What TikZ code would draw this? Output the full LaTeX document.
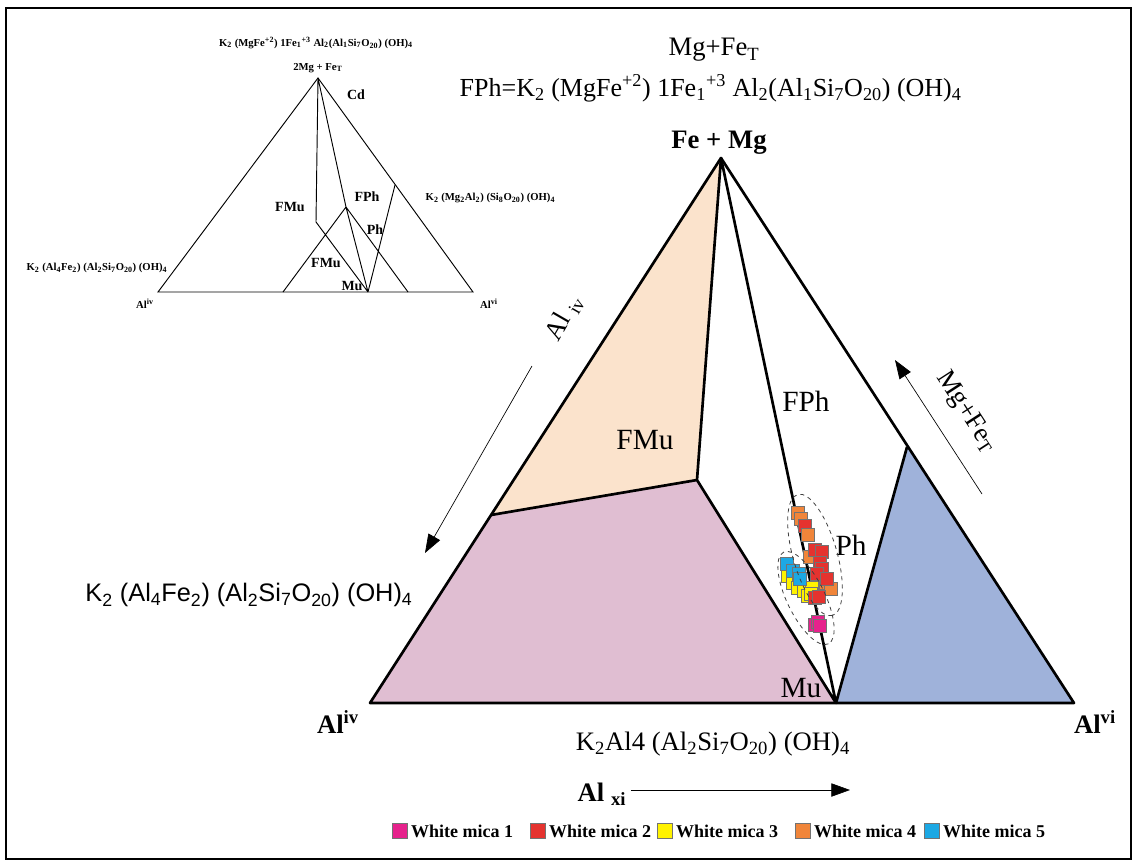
\documentclass[tikz,border=0pt]{standalone}
\usepackage{fontspec}
\setmainfont{Liberation Serif}
\newfontfamily\arialfont{Liberation Sans}
\usepackage{tikz}
\usetikzlibrary{arrows.meta,positioning}

\definecolor{fmucol}{HTML}{FBE3CC}
\definecolor{mucol}{HTML}{E0BED2}
\definecolor{phcol}{HTML}{9FB2DA}
\definecolor{micaA}{HTML}{E6228C}
\definecolor{micaB}{HTML}{E5332F}
\definecolor{micaC}{HTML}{FFF200}
\definecolor{micaD}{HTML}{F0853A}
\definecolor{micaE}{HTML}{1CA8E4}
\newcommand{\chsb}[1]{\textsubscript{#1}}
\newcommand{\chsp}[1]{\textsuperscript{#1}}

\begin{document}
\begin{tikzpicture}[x=0.75pt,y=-0.75pt,
    edge/.style={line width=2pt,line join=round},
    thin edge/.style={line width=0.7pt},
    big/.style={font=\fontsize{22}{24}\selectfont},
    mid/.style={font=\fontsize{20}{22}\selectfont},
    midbf/.style={font=\fontsize{20}{22}\selectfont\bfseries},
    tiny/.style={font=\fontsize{8}{9}\selectfont\bfseries},
    tinylbl/.style={font=\fontsize{10.5}{11}\selectfont\bfseries},
    mica/.style={draw=black!55,line width=0.3pt,minimum size=10pt,inner sep=0pt},
    key text/.style={font=\fontsize{13.5}{15}\selectfont\bfseries,inner sep=1pt},
    axis arrow/.style={-{Triangle[length=14pt,width=10pt]},line width=0.5pt}]
  \useasboundingbox (0,0) rectangle (1133,861);
  \draw[line width=1.5pt] (6,8) rectangle (1131,859);

  % small sketch, top left
  \coordinate (iA) at (318,78);
  \coordinate (iL) at (158,292);
  \coordinate (iR) at (473,292);
  \coordinate (iV) at (316,222);
  \coordinate (iMu) at (368,292);
  \coordinate (iF) at (346,207);
  \coordinate (iP) at (283,292);
  \coordinate (iQ) at (408,292);
  \coordinate (iE) at (395,185);
  \draw[thin edge] (iL) -- (iA) -- (iR) -- cycle;
  \draw[thin edge] (iA) -- (iV) -- (iMu) (iA) -- (iF) -- (iMu)
    (iP) -- (iF) -- (iQ) (iMu) -- (iE);
  \node[tiny] (ifph) at (316,43) {K\chsb{2} (MgFe\chsp{+2}) 1Fe\chsb{1}\chsp{+3} Al\chsb{2}(Al\chsb{1}Si\chsb{7}O\chsb{20}) (OH)\chsb{4}};
  \node[tiny] (itop) at (318,68) {2Mg + Fe\chsb{T}};
  \node[tinylbl] (icd) at (356,95) {Cd};
  \node[tinylbl] (ifmu) at (290,207) {FMu};
  \node[tinylbl] (ifphl) at (367,197) {FPh};
  \node[tinylbl] (iph) at (375,230) {Ph};
  \node[tinylbl] (ifmub) at (326,263) {FMu};
  \node[tinylbl] (imu) at (352,286) {Mu};
  \node[tiny,anchor=west] (icel) at (421,198) {K\chsb{2} (Mg\chsb{2}Al\chsb{2}) (Si\chsb{8}O\chsb{20}) (OH)\chsb{4}};
  \node[tiny] (ifmuf) at (97,268) {K\chsb{2} (Al\chsb{4}Fe\chsb{2}) (Al\chsb{2}Si\chsb{7}O\chsb{20}) (OH)\chsb{4}};
  \node[tiny] (ialiv) at (145,304) {Al\chsp{iv}};
  \node[tiny] (ialvi) at (489,304) {Al\chsp{vi}};

  % main diagram
  \coordinate (top) at (721,158);
  \coordinate (aliv) at (370,703);
  \coordinate (alvi) at (1074,703);
  \coordinate (mu) at (836,703);
  \coordinate (fmu) at (697,480);
  \coordinate (lft) at (491,515);
  \coordinate (rgt) at (907,447);
  \fill[fmucol] (lft) -- (top) -- (fmu) -- cycle;
  \fill[mucol] (aliv) -- (lft) -- (fmu) -- (mu) -- cycle;
  \fill[phcol] (mu) -- (rgt) -- (alvi) -- cycle;
  \draw[edge] (aliv) -- (top) -- (alvi) -- cycle;
  \draw[edge] (lft) -- (fmu) -- (top) (fmu) -- (mu) -- (top) (mu) -- (rgt);

  \node[big] (lfmu) at (645,440) {FMu};
  \node[big] (lfph) at (806,401) {FPh};
  \node[big] (lph) at (851,545) {Ph};
  \node[big] (lmu) at (801,688) {Mu};

  % analyses
  \foreach \c/\x/\y in {micaD/798/513,micaD/801/519,micaB/805/526,micaD/808/535,
      micaD/810/557,micaB/815/550,micaB/822/552,micaB/820/563,micaB/822/569,
      micaD/826/583,micaD/831/589,micaB/817/574,micaB/827/579,
      micaC/788/576,micaC/793/583,micaC/798/588,micaC/804/591,micaC/808/596,
      micaC/812/588,micaC/811/594,
      micaE/787/564,micaE/793/571,micaE/799/574,micaE/800/579,
      micaB/815/598,micaB/819/597,
      micaA/815/625,micaA/818/622,micaA/820/626}
    \node[mica,fill=\c] at (\x,\y) {};
  \begin{scope}[shift={(815,555)},rotate=-74]
    \draw[dashed,line width=0.6pt,black!75] (0,0) ellipse [x radius=63,y radius=22];
  \end{scope}
  \begin{scope}[shift={(806,598)},rotate=-64]
    \draw[dashed,line width=0.6pt,black!75] (0,0) ellipse [x radius=51,y radius=19];
  \end{scope}

  % end members and axes
  \node[mid] (mgfe) at (714,50) {Mg+Fe\chsb{T}};
  \node[mid,font=\fontsize{19.5}{22}\selectfont,anchor=west] (fph) at (455,88) {FPh=K\chsb{2} (MgFe\chsp{+2}) 1Fe\chsb{1}\chsp{+3} Al\chsb{2}(Al\chsb{1}Si\chsb{7}O\chsb{20}) (OH)\chsb{4}};
  \node[midbf] (femg) at (719,143) {Fe + Mg};
  \node[midbf] (laliv) at (338,722) {Al\chsp{iv}};
  \node[midbf] (lalvi) at (1095,722) {Al\chsp{vi}};
  \node[mid] (musc) at (713,744) {K\chsb{2}Al4 (Al\chsb{2}Si\chsb{7}O\chsb{20}) (OH)\chsb{4}};
  \node[mid,font=\fontsize{19}{22}\selectfont\arialfont] (fmuf) at (249,595) {K\chsb{2} (Al\chsb{4}Fe\chsb{2}) (Al\chsb{2}Si\chsb{7}O\chsb{20}) (OH)\chsb{4}};

  \coordinate (ivtail) at (532,366);
  \coordinate (ivtip) at (425,553);
  \draw[axis arrow] (ivtail) -- (ivtip);
  \node[mid,rotate=60] (ivlbl) at (564,318) {Al \chsb{iv}};
  \coordinate (mgtail) at (982,494);
  \coordinate (mgtip) at (895,360);
  \draw[axis arrow] (mgtail) -- (mgtip);
  \node[mid,rotate=-57] (mglbl) at (966,412) {Mg+Fe\chsb{T}};
  \node[midbf] (alxi) at (602,794) {Al \chsb{xi}};
  \coordinate (xitip) at (850,790);
  \draw[axis arrow] (alxi.east |- xitip) -- (xitip);

  % legend
  \foreach \i/\c/\x in {1/micaA/400,2/micaB/538,3/micaC/665,4/micaD/803,5/micaE/932}{
    \node[mica,fill=\c,minimum size=11pt] (key\i) at (\x,831) {};
    \node[key text,right=1.5pt of key\i] {White mica \i};
  }
\end{tikzpicture}
\end{document}
